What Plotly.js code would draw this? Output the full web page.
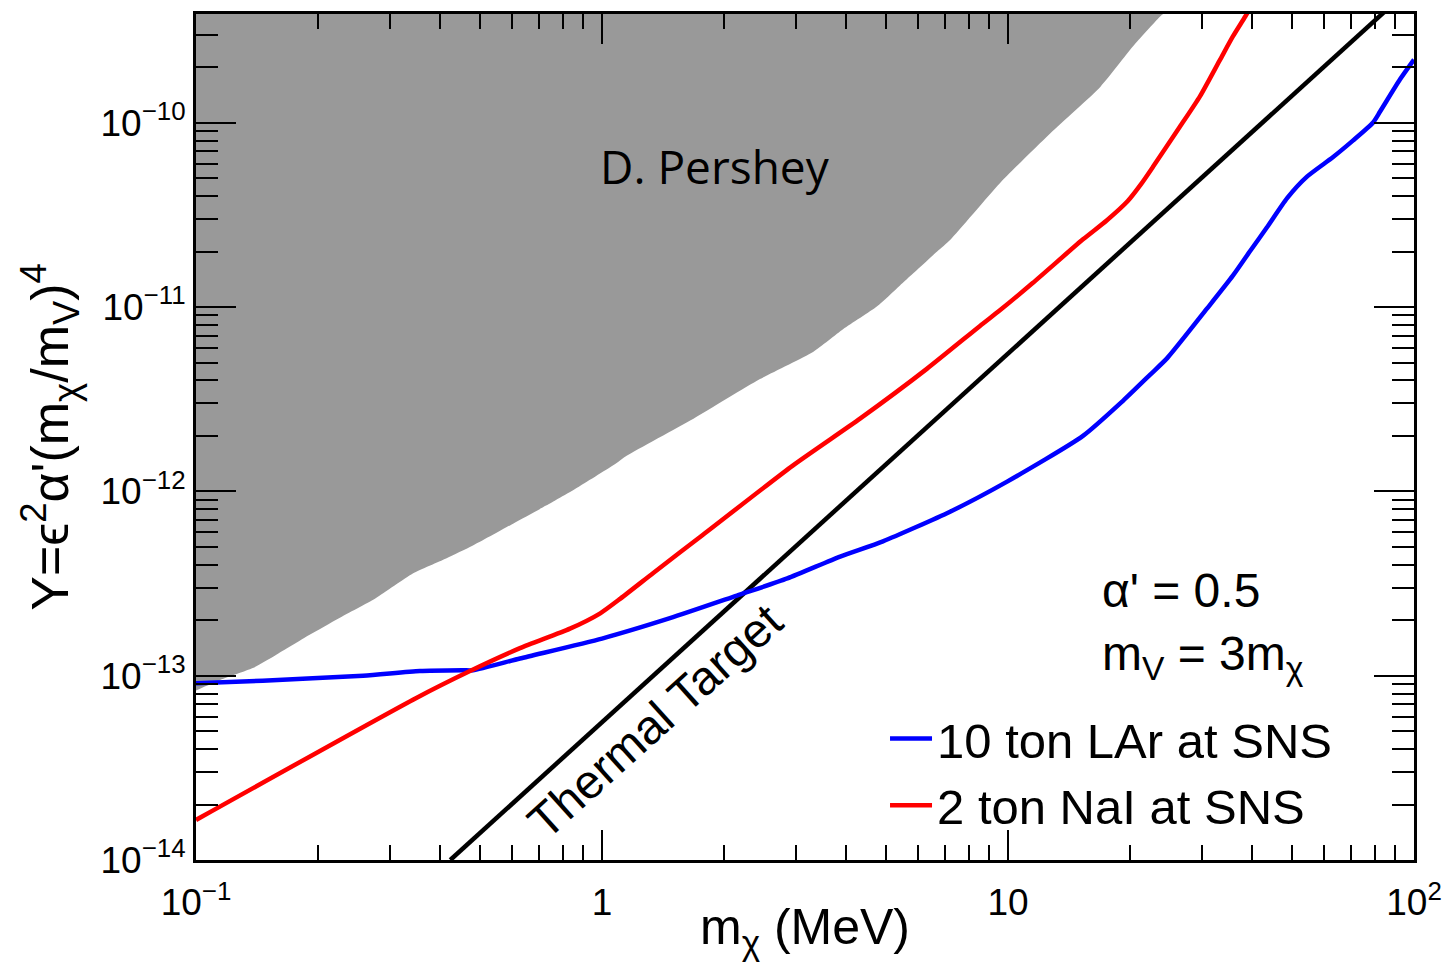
<!DOCTYPE html>
<html>
<head>
<meta charset="utf-8">
<script src="https://cdn.plot.ly/plotly-3.0.1.min.js"></script>
<style>
  html, body { margin: 0; padding: 0; background: #ffffff; }
  #chart { width: 1445px; height: 962px; }
</style>
</head>
<body>
<div id="chart"></div>
<script>
// Dark-matter mass m_chi in MeV, yield variable Y on the vertical axis.

// Excluded region (grey), lower boundary
const excludedMass = [0.1, 0.115, 0.138, 0.157, 0.19, 0.225, 0.277, 0.342, 0.413, 0.481, 0.604, 0.728, 0.877, 1.08, 1.15, 1.68, 2.45, 3.31, 3.93, 4.76, 5.42, 6.69, 7.2, 9.55, 12.7, 16.9, 20.3, 23.7, 26.5];
const excludedY    = [8.3e-14, 9.5e-14, 1.1e-13, 1.29e-13, 1.66e-13, 2.05e-13, 2.63e-13, 3.58e-13, 4.32e-13, 5.08e-13, 6.68e-13, 8.37e-13, 1.06e-12, 1.41e-12, 1.56e-12, 2.48e-12, 4.07e-12, 5.71e-12, 7.6e-12, 1.01e-11, 1.31e-11, 2.0e-11, 2.31e-11, 4.7e-11, 8.75e-11, 1.57e-10, 2.59e-10, 3.77e-10, 4.7e-10];
// closing corners of the excluded region above the frame
const excludedTopMass = [26.5, 0.1];
const excludedTopY    = [1e-9, 1e-9];

// 10 ton LAr at SNS
const larMass = [0.1, 0.146, 0.258, 0.356, 0.455, 0.481, 0.628, 1.0, 1.47, 2.15, 2.86, 3.86, 4.92, 7.2, 9.95, 15.3, 19.2, 22.4, 24.7, 30.9, 35.8, 39.4, 43.4, 48.7, 54.5, 63.1, 70.7, 79.2, 82.5, 92.4, 100];
const larY    = [9.1e-14, 9.4e-14, 1.0e-13, 1.06e-13, 1.07e-13, 1.07e-13, 1.24e-13, 1.59e-13, 2.05e-13, 2.72e-13, 3.37e-13, 4.43e-13, 5.36e-13, 7.76e-13, 1.13e-12, 2.0e-12, 3.1e-12, 4.3e-12, 5.3e-12, 9.8e-12, 1.48e-11, 2.0e-11, 2.7e-11, 3.9e-11, 5.1e-11, 6.5e-11, 8.0e-11, 1.0e-10, 1.15e-10, 1.72e-10, 2.2e-10];

// 2 ton NaI at SNS
const naiMass = [0.1, 0.348, 0.473, 0.628, 0.834, 0.99, 1.11, 1.34, 1.77, 2.95, 4.32, 6.31, 8.53, 9.55, 11.5, 15.3, 17.5, 19.7, 21.2, 22.8, 26.5, 29.7, 33.3, 35.8, 38.4, 41];
const naiY    = [1.65e-14, 7.55e-14, 1.06e-13, 1.41e-13, 1.8e-13, 2.18e-13, 2.62e-13, 3.62e-13, 5.8e-13, 1.38e-12, 2.48e-12, 4.62e-12, 7.9e-12, 9.6e-12, 1.35e-11, 2.33e-11, 2.95e-11, 3.75e-11, 4.6e-11, 5.8e-11, 9.5e-11, 1.39e-10, 2.2e-10, 2.94e-10, 3.77e-10, 4.8e-10];

// Thermal relic target
const thermalMass = [0.423, 85];
const thermalY    = [1e-14, 4.04e-10];

// Axis ticks
const xTickVals  = [0.1, 1, 10, 100];
const xTickText  = ['10<sup>\u22121</sup>', '1', '10', '10<sup>2</sup>'];
const xMinorVals = [0.2, 0.3, 0.4, 0.5, 0.6, 0.7, 0.8, 0.9, 2, 3, 4, 5, 6, 7, 8, 9, 20, 30, 40, 50, 60, 70, 80, 90];
const yTickVals  = [1e-14, 1e-13, 1e-12, 1e-11, 1e-10];
const yTickText  = ['10<sup>\u221214</sup>', '10<sup>\u221213</sup>', '10<sup>\u221212</sup>', '10<sup>\u221211</sup>', '10<sup>\u221210</sup>'];
const yMinorVals = [2e-14, 3e-14, 4e-14, 5e-14, 6e-14, 7e-14, 8e-14, 9e-14,
                    2e-13, 3e-13, 4e-13, 5e-13, 6e-13, 7e-13, 8e-13, 9e-13,
                    2e-12, 3e-12, 4e-12, 5e-12, 6e-12, 7e-12, 8e-12, 9e-12,
                    2e-11, 3e-11, 4e-11, 5e-11, 6e-11, 7e-11, 8e-11, 9e-11,
                    2e-10, 3e-10];

const FONT = 'Liberation Sans, Arial, Helvetica, sans-serif';

const traces = [
  {
    x: excludedMass.concat(excludedTopMass),
    y: excludedY.concat(excludedTopY),
    type: 'scatter', mode: 'lines',
    fill: 'toself', fillcolor: '#999999',
    line: { width: 0, color: '#999999', shape: 'spline', smoothing: 0.6 },
    showlegend: false, hoverinfo: 'skip'
  },
  {
    x: thermalMass, y: thermalY,
    type: 'scatter', mode: 'lines',
    line: { color: '#000000', width: 4.5 },
    showlegend: false
  },
  {
    x: larMass, y: larY,
    type: 'scatter', mode: 'lines', name: '10 ton LAr at SNS',
    line: { color: '#0000ff', width: 4.5, shape: 'spline', smoothing: 0.6 }
  },
  {
    x: naiMass, y: naiY,
    type: 'scatter', mode: 'lines', name: '2 ton NaI at SNS',
    line: { color: '#ff0000', width: 4.5, shape: 'spline', smoothing: 0.6 }
  }
];

const layout = {
  width: 1445, height: 962,
  margin: { l: 196, r: 31, t: 14, b: 102 },
  paper_bgcolor: '#ffffff', plot_bgcolor: '#ffffff',
  font: { family: FONT, color: '#000000' },
  xaxis: {
    type: 'log', range: [-1, 2],
    tickmode: 'array', tickvals: xTickVals, ticktext: xTickText,
    ticks: 'inside', ticklen: 30, tickwidth: 2, tickcolor: '#000000',
    minor: { tickmode: 'array', tickvals: xMinorVals, ticks: 'inside', ticklen: 15, tickwidth: 2, tickcolor: '#000000', showgrid: false },
    mirror: 'allticks', showline: true, linewidth: 3, linecolor: '#000000',
    showgrid: false, zeroline: false,
    ticklabelstandoff: 8,
    tickfont: { family: FONT, size: 37, color: '#000000' },
    title: { text: 'm<sub>\u03c7</sub> (MeV)', font: { family: FONT, size: 50, color: '#000000' }, standoff: 6 }
  },
  yaxis: {
    type: 'log', range: [-14, -9.41],
    tickmode: 'array', tickvals: yTickVals, ticktext: yTickText,
    ticks: 'inside', ticklen: 40, tickwidth: 2, tickcolor: '#000000',
    minor: { tickmode: 'array', tickvals: yMinorVals, ticks: 'inside', ticklen: 22, tickwidth: 2, tickcolor: '#000000', showgrid: false },
    mirror: 'allticks', showline: true, linewidth: 3, linecolor: '#000000',
    showgrid: false, zeroline: false,
    tickfont: { family: FONT, size: 37, color: '#000000' },
    title: { text: 'Y=\u03f5<sup>2</sup>\u03b1\'(m<sub>\u03c7</sub>/m<sub>V</sub>)<sup>4</sup>', font: { family: FONT, size: 52, color: '#000000' }, standoff: 16 }
  },
  showlegend: true,
  legend: {
    x: 0.5657, y: 0.189, xanchor: 'left', yanchor: 'top',
    bgcolor: 'rgba(0,0,0,0)', borderwidth: 0,
    font: { family: FONT, size: 49, color: '#000000' },
    itemwidth: 42, tracegroupgap: 0
  },
  annotations: [
    {
      xref: 'paper', yref: 'paper', x: 0.4257, y: 0.82,
      xanchor: 'center', yanchor: 'middle', showarrow: false,
      text: 'D. Pershey',
      font: { family: 'Open Sans, Noto Sans, sans-serif', size: 46, color: '#000000' }
    },
    {
      xref: 'paper', yref: 'paper', x: 0.3765, y: 0.164,
      xanchor: 'center', yanchor: 'middle', showarrow: false,
      text: 'Thermal Target', textangle: -42,
      font: { family: FONT, size: 48, color: '#000000' }
    },
    {
      xref: 'paper', yref: 'paper', x: 0.742, y: 0.319,
      xanchor: 'left', yanchor: 'middle', showarrow: false,
      text: '\u03b1\' = 0.5',
      font: { family: FONT, size: 48, color: '#000000' }
    },
    {
      xref: 'paper', yref: 'paper', x: 0.742, y: 0.24,
      xanchor: 'left', yanchor: 'middle', showarrow: false,
      text: 'm<sub>V</sub> = 3m<sub>\u03c7</sub>',
      font: { family: FONT, size: 48, color: '#000000' }
    }
  ]
};

Plotly.newPlot('chart', traces, layout, { displayModeBar: false, staticPlot: true });
</script>
</body>
</html>
